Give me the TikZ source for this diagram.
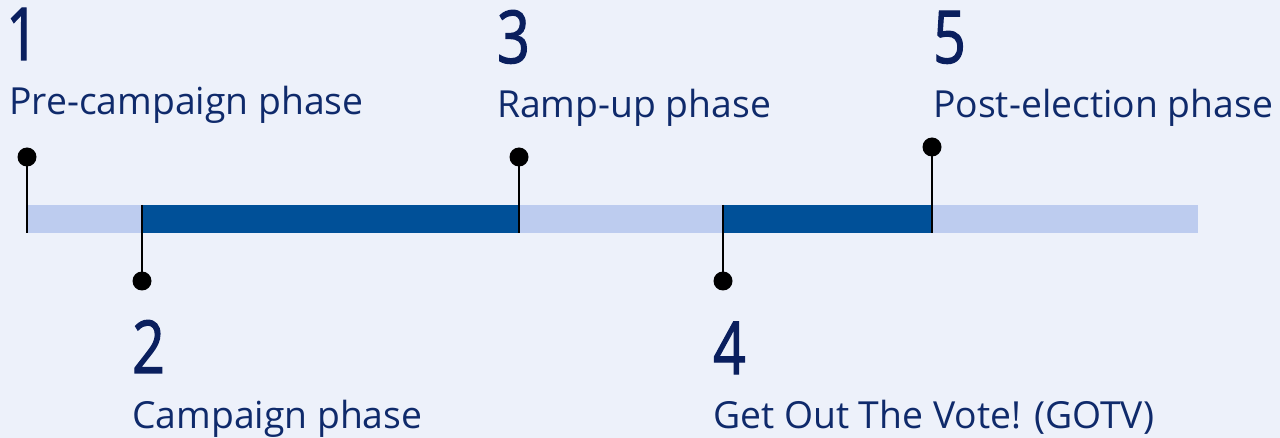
\documentclass[tikz,border=0pt]{standalone}
\usepackage{fontspec}
\setmainfont{Open Sans}
\newfontfamily\numfont[FakeStretch=0.78,FakeBold=1.6]{Open Sans}
\definecolor{pagebg}{HTML}{EDF1FA}
\definecolor{barlight}{HTML}{BDCCEF}
\definecolor{bardark}{HTML}{005098}
\definecolor{numblue}{HTML}{0A1F5E}
\definecolor{textblue}{HTML}{0F2A6B}
\begin{document}
\begin{tikzpicture}[x=1pt,y=-1pt,
  pinline/.style={black, line width=2pt},
  pindot/.style={circle, fill=black, minimum size=19pt, inner sep=0pt},
  num/.style={anchor=base west, inner sep=0pt, text=numblue,
    font=\numfont\fontsize{73}{73}\selectfont},
  lbl/.style={anchor=base west, inner sep=0pt, text=textblue,
    font=\fontsize{37.3}{37.3}\selectfont}]
\fill[pagebg] (0,0) rectangle (1280,438);
\useasboundingbox (0,0) rectangle (1280,438);

% timeline bar
\fill[barlight] (27,205) rectangle (1198,233);
\fill[bardark] (142,205) rectangle (519,233);
\fill[bardark] (723,205) rectangle (932,233);

% phase markers
\coordinate (b1) at (27,233);
\coordinate (b2) at (142,205);
\coordinate (b3) at (519,233);
\coordinate (b4) at (723,205);
\coordinate (b5) at (932,233);
\node[pindot] (d1) at (27,157) {};
\node[pindot] (d2) at (142,281) {};
\node[pindot] (d3) at (519,157) {};
\node[pindot] (d4) at (723,281) {};
\node[pindot] (d5) at (932,147) {};
\draw[pinline] (d1.center) -- (b1);
\draw[pinline] (b2) -- (d2.center);
\draw[pinline] (d3.center) -- (b3);
\draw[pinline] (b4) -- (d4.center);
\draw[pinline] (d5.center) -- (b5);

% phase numbers and names
\node[num] (n1) at (6,60) {1};
\node[lbl] (l1) at (9,115) {Pre-campaign phase};
\node[num] (n3) at (497,63) {3};
\node[lbl] (l3) at (497,118) {Ramp-up phase};
\node[num] (n5) at (933,63) {5};
\node[lbl] (l5) at (933,118) {Post-election phase};
\node[num] (n2) at (132,373) {2};
\node[lbl] (l2) at (132,428) {Campaign phase};
\node[num] (n4) at (713,374) {4};
\node[lbl] (l4) at (713,428) {Get Out The Vote! (GOTV)};
\end{tikzpicture}
\end{document}
